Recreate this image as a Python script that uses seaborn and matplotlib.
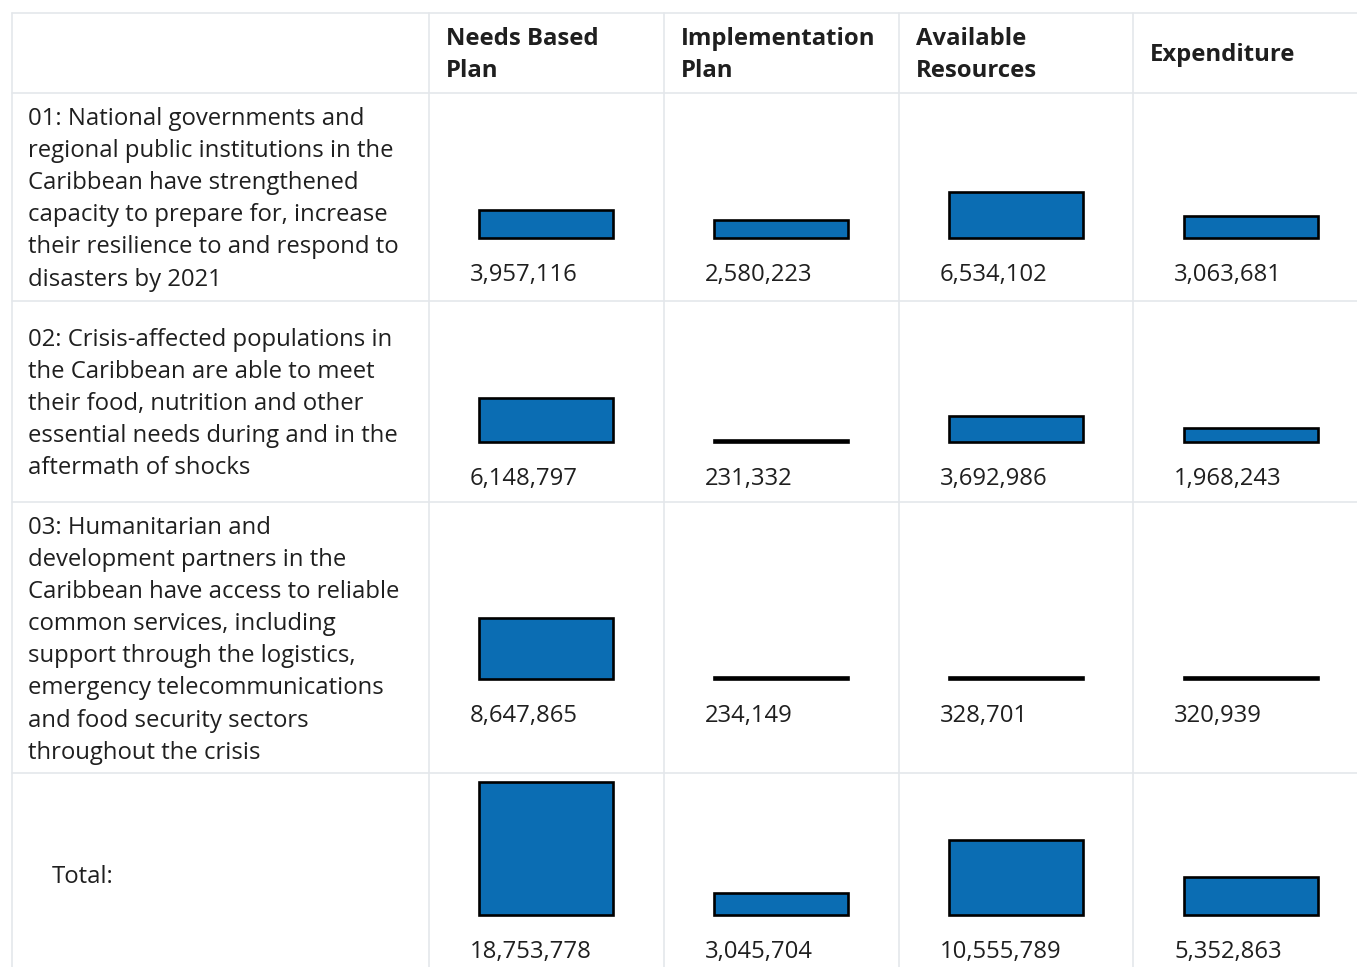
import matplotlib
matplotlib.use("Agg")
import matplotlib.pyplot as plt
import seaborn as sns

# column headers and row labels, wrapped as in the source table
columns = ["Needs Based\nPlan", "Implementation\nPlan", "Available\nResources", "Expenditure"]
row_labels = [
    "01: National governments and\nregional public institutions in the\nCaribbean have strengthened\n"
    "capacity to prepare for, increase\ntheir resilience to and respond to\ndisasters by 2021",
    "02: Crisis-affected populations in\nthe Caribbean are able to meet\ntheir food, nutrition and other\n"
    "essential needs during and in the\naftermath of shocks",
    "03: Humanitarian and\ndevelopment partners in the\nCaribbean have access to reliable\n"
    "common services, including\nsupport through the logistics,\nemergency telecommunications\n"
    "and food security sectors\nthroughout the crisis",
    "Total:",
]

# values per row: needs based, implementation, available, expenditure
row1 = [3957116, 2580223, 6534102, 3063681]
row2 = [6148797, 231332, 3692986, 1968243]
row3 = [8647865, 234149, 328701, 320939]
total = [18753778, 3045704, 10555789, 5352863]
rows = [row1, row2, row3, total]

# layout in pixels
W, H = 1357, 967
col_x = [429, 664, 899, 1133]
col_w = 235
hlines = [13, 93, 301, 502, 773]
vlines = [12, 429, 664, 899, 1133]
baselines = [238, 442, 679, 915]
label_tops = [119, 340, 528]
line_h = 32.1
px_per_unit = 7.09e-6
bar_color = "#0b6db3"
grid_color = "#e4e7eb"
text_color = "#1f1f1f"

sns.set_theme(style="white")
plt.rcParams["font.family"] = ["Open Sans", "DejaVu Sans"]

fig = plt.figure(figsize=(W / 100, H / 100), dpi=100)
bg = fig.add_axes([0, 0, 1, 1])
bg.set_xlim(0, W)
bg.set_ylim(H, 0)
bg.axis("off")

for y in hlines:
    bg.plot([12, W], [y, y], color=grid_color, lw=1.2)
for x in vlines:
    bg.plot([x, x], [13, H], color=grid_color, lw=1.2)

fs = 17.2


def put_lines(x, y0, txt, **kw):
    # one text per line so the row pitch matches the table
    lines = txt.split("\n")
    for j, line in enumerate(lines):
        bg.text(x, y0 + j * line_h, line, fontsize=fs, color=text_color,
                va="center", ha="left", **kw)


for i, c in enumerate(columns):
    n = c.count("\n") + 1
    y0 = 55 - (n - 1) * line_h / 2
    put_lines(col_x[i] + 17, y0, c, fontweight="bold")

for i, lab in enumerate(row_labels[:3]):
    put_lines(28, label_tops[i], lab)
put_lines(52, 877, row_labels[3])

ax_h = 150
for r, vals in enumerate(rows):
    yb = baselines[r]
    ax = fig.add_axes([(col_x[0] - 1) / W, (H - yb) / H, (W - col_x[0]) / W, ax_h / H])
    sns.barplot(x=list(range(4)), y=vals, ax=ax, color=bar_color, saturation=1,
                edgecolor="black", linewidth=1.9, width=134 / col_w)
    for p in ax.patches:
        p.set_clip_on(False)
    ax.set_xlim(-0.5, -0.5 + (W - col_x[0]) / col_w)
    ax.set_ylim(0, ax_h / px_per_unit)
    ax.axis("off")
    for i, v in enumerate(vals):
        bg.text(col_x[i] + 41, yb + 37, f"{v:,}", fontsize=fs, color=text_color,
                va="center", ha="left")

fig.savefig("out.png", dpi=100)
